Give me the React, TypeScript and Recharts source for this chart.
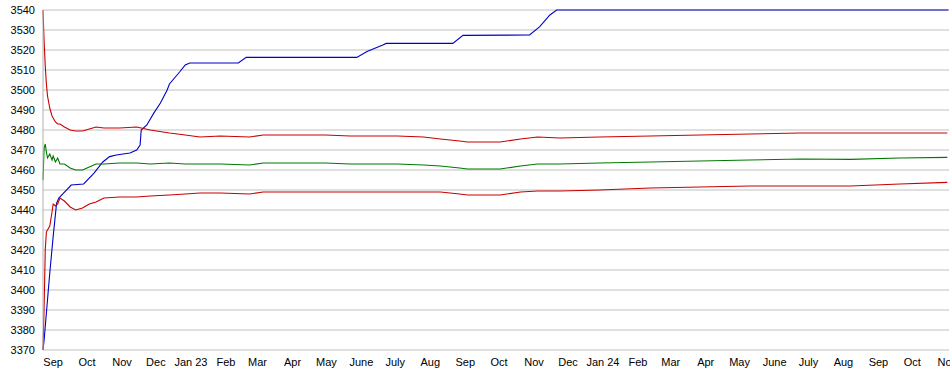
import React from "react";
import { LineChart, Line, XAxis, YAxis, CartesianGrid } from "recharts";

const START = Date.UTC(2022, 7, 23);
const DAY = 86400000;

// day offsets from 2022-08-23 for the three band series
const bandDays = [0, 1, 2, 3, 4, 6, 8, 9, 11, 13, 15, 19, 24, 29, 35, 41, 47, 54, 68, 83, 95, 112, 126, 139, 157, 183, 195, 250, 272, 314, 337, 352, 369, 376, 405, 423, 438, 458, 493, 538, 582, 626, 671, 715, 759, 801];
const upperValues = [3540, 3524, 3512, 3503, 3497, 3491, 3487, 3486, 3484, 3483, 3483, 3481.5, 3480, 3479.5, 3479.5, 3480.5, 3481.5, 3481, 3481, 3481.5, 3480, 3478.5, 3477.5, 3476.5, 3477, 3476.5, 3477.5, 3477.5, 3477, 3477, 3476.5, 3475.5, 3474.5, 3474, 3474, 3475.5, 3476.5, 3476, 3476.5, 3477, 3477.5, 3478, 3478.5, 3478.5, 3478.5, 3478.5];
const middleValues = [3455, 3471, 3473, 3469, 3466, 3468, 3465, 3467, 3464, 3466, 3463, 3463, 3461, 3460, 3460, 3461.5, 3463, 3463, 3463.5, 3463.5, 3463, 3463.5, 3463, 3463, 3463, 3462.5, 3463.5, 3463.5, 3463, 3463, 3462.5, 3462, 3461, 3460.5, 3460.5, 3462, 3463, 3463, 3463.5, 3464, 3464.5, 3465, 3465.5, 3465.3, 3466, 3466.3];
const lowerValues = [3370, 3392, 3420, 3429, 3430, 3432, 3439, 3443, 3442, 3443, 3446, 3444.5, 3441.5, 3440, 3441, 3443, 3444, 3446, 3446.5, 3446.5, 3447, 3447.5, 3448, 3448.5, 3448.5, 3448, 3449, 3449, 3449, 3449, 3449, 3449, 3448, 3447.5, 3447.5, 3449, 3449.5, 3449.5, 3450, 3451, 3451.5, 3452, 3452, 3452, 3453, 3453.8];

// blue staircase series
const blueDays = [0, 1, 3, 6, 9, 12, 14, 18, 25, 36, 45, 53, 59, 65, 77, 83, 86, 87, 92, 98, 104, 110, 112, 121, 126, 130, 173, 180, 278, 287, 301, 304, 363, 372, 431, 440, 449, 455, 802];
const blueValues = [3370, 3375, 3388.5, 3408.5, 3426.7, 3443.3, 3446, 3448.3, 3452.5, 3453, 3458.3, 3464, 3466.7, 3467.5, 3468.5, 3470, 3472.5, 3480, 3482.5, 3488.3, 3493.5, 3500, 3503, 3509, 3512.5, 3513.5, 3513.5, 3516.3, 3516.3, 3519.2, 3522.5, 3523.3, 3523.3, 3527.3, 3527.5, 3531.7, 3537.5, 3540, 3540];

const monthLabels = ["Sep", "Oct", "Nov", "Dec", "Jan 23", "Feb", "Mar", "Apr", "May", "June", "July", "Aug", "Sep", "Oct", "Nov", "Dec", "Jan 24", "Feb", "Mar", "Apr", "May", "June", "July", "Aug", "Sep", "Oct", "Nov"];
const yTicks = [3370, 3380, 3390, 3400, 3410, 3420, 3430, 3440, 3450, 3460, 3470, 3480, 3490, 3500, 3510, 3520, 3530, 3540];

const monthTicks = monthLabels.map((_, i) => Date.UTC(2022, 8 + i, 1));
const labelByTick: Record<number, string> = {};
monthTicks.forEach((t, i) => (labelByTick[t] = monthLabels[i]));

const toT = (d: number) => START + d * DAY;
const upperData = bandDays.map((d, i) => ({ t: toT(d), v: upperValues[i] }));
const middleData = bandDays.map((d, i) => ({ t: toT(d), v: middleValues[i] }));
const lowerData = bandDays.map((d, i) => ({ t: toT(d), v: lowerValues[i] }));
const blueData = blueDays.map((d, i) => ({ t: toT(d), v: blueValues[i] }));

const tickStyle = { fontSize: 11, fill: "#000", fontFamily: "'Liberation Sans', Arial, sans-serif" };

export default function App() {
  return (
    <div style={{ position: "absolute", left: 0, top: 0, width: 950, height: 375, background: "#fff" }}>
      <LineChart width={950} height={375} margin={{ top: 10, right: 1, left: 0, bottom: 0 }}>
        <CartesianGrid vertical={false} stroke="#c0c0c0" />
        <XAxis
          dataKey="t"
          type="number"
          domain={[START, START + 802.5 * DAY]}
          ticks={monthTicks}
          interval={0}
          tickFormatter={(t: number) => labelByTick[t] ?? ""}
          tick={tickStyle}
          tickLine={false}
          axisLine={false}
          height={25}
          allowDuplicatedCategory={false}
        />
        <YAxis
          type="number"
          domain={[3370, 3540]}
          ticks={yTicks}
          interval={0}
          tick={tickStyle}
          tickLine={false}
          axisLine={{ stroke: "#b0b0b0" }}
          width={43}
        />
        <Line data={blueData} dataKey="v" stroke="#0000c8" strokeWidth={1.1} dot={false} isAnimationActive={false} type="linear" />
        <Line data={upperData} dataKey="v" stroke="#c80000" strokeWidth={1.1} dot={false} isAnimationActive={false} type="linear" />
        <Line data={middleData} dataKey="v" stroke="#007800" strokeWidth={1.1} dot={false} isAnimationActive={false} type="linear" />
        <Line data={lowerData} dataKey="v" stroke="#c80000" strokeWidth={1.1} dot={false} isAnimationActive={false} type="linear" />
      </LineChart>
    </div>
  );
}
